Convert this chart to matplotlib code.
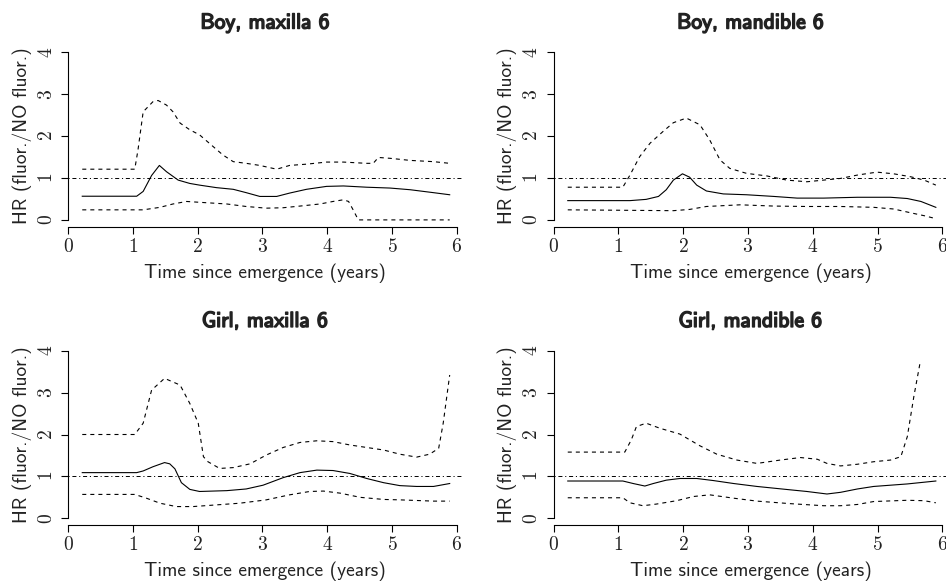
import matplotlib.pyplot as plt
import matplotlib.patheffects as pe

plt.rcParams['axes.formatter.use_mathtext'] = True
plt.rcParams['lines.scale_dashes'] = False

# Boy, maxilla 6
boy_max_t = [0.22, 1.06, 1.16, 1.29, 1.41, 1.52, 1.70, 1.88, 2.03, 2.29, 2.55, 2.75, 2.96,
             3.22, 3.42, 3.68, 3.99, 4.25, 4.61, 4.97, 5.28, 5.64, 5.89]
boy_max_hr = [0.565, 0.565, 0.68, 1.06, 1.30, 1.15, 0.95, 0.87, 0.83, 0.77, 0.73, 0.65, 0.56,
              0.56, 0.64, 0.73, 0.80, 0.81, 0.78, 0.76, 0.72, 0.65, 0.60]
boy_max_up_t = [0.22, 1.03, 1.08, 1.16, 1.31, 1.39, 1.52, 1.62, 1.73, 1.88, 2.03, 2.24, 2.39,
                2.55, 2.75, 2.96, 3.22, 3.42, 3.68, 3.99, 4.25, 4.61, 4.71, 4.79, 4.97, 5.28,
                5.64, 5.89]
boy_max_up = [1.21, 1.21, 1.67, 2.58, 2.82, 2.85, 2.74, 2.58, 2.31, 2.15, 2.03, 1.75, 1.55,
              1.39, 1.35, 1.30, 1.21, 1.30, 1.33, 1.38, 1.38, 1.35, 1.35, 1.49, 1.47, 1.42,
              1.39, 1.35]
boy_max_lo_t = [0.22, 1.03, 1.16, 1.42, 1.62, 1.83, 2.03, 2.45, 2.75, 3.06, 3.32, 3.58, 3.89,
                4.09, 4.25, 4.33, 4.40, 4.48, 5.89]
boy_max_lo = [0.24, 0.24, 0.24, 0.30, 0.38, 0.44, 0.42, 0.38, 0.32, 0.28, 0.29, 0.33, 0.38,
              0.44, 0.48, 0.44, 0.24, 0.0, 0.0]

# Boy, mandible 6
boy_man_t = [0.22, 1.18, 1.43, 1.62, 1.74, 1.85, 1.99, 2.10, 2.21, 2.36, 2.62, 2.98, 3.40,
             3.76, 4.17, 4.69, 5.20, 5.46, 5.67, 5.90]
boy_man_hr = [0.46, 0.46, 0.49, 0.56, 0.72, 0.95, 1.10, 1.02, 0.83, 0.69, 0.62, 0.60, 0.56,
              0.52, 0.52, 0.54, 0.54, 0.51, 0.44, 0.30]
boy_man_up_t = [0.22, 1.07, 1.18, 1.33, 1.49, 1.69, 1.85, 2.05, 2.26, 2.41, 2.57, 2.72, 2.98,
                3.29, 3.60, 3.91, 4.17, 4.43, 4.69, 4.99, 5.25, 5.51, 5.72, 5.90]
boy_man_up = [0.78, 0.78, 1.07, 1.51, 1.83, 2.11, 2.32, 2.43, 2.27, 1.91, 1.43, 1.23, 1.11,
              1.05, 0.95, 0.91, 0.95, 0.99, 1.07, 1.14, 1.10, 1.03, 0.95, 0.83]
boy_man_lo_t = [0.22, 1.85, 2.10, 2.36, 2.88, 3.40, 3.91, 4.43, 4.94, 5.25, 5.51, 5.72, 5.90]
boy_man_lo = [0.24, 0.22, 0.25, 0.32, 0.36, 0.33, 0.32, 0.32, 0.30, 0.26, 0.17, 0.10, 0.03]

# Girl, maxilla 6
girl_max_t = [0.22, 1.06, 1.16, 1.31, 1.49, 1.57, 1.65, 1.75, 1.88, 2.03, 2.45, 2.75, 3.01,
              3.32, 3.58, 3.84, 4.09, 4.35, 4.61, 4.87, 5.12, 5.38, 5.64, 5.89]
girl_max_hr = [1.09, 1.09, 1.13, 1.23, 1.33, 1.30, 1.18, 0.85, 0.69, 0.64, 0.66, 0.70, 0.79,
               0.97, 1.09, 1.15, 1.14, 1.07, 0.95, 0.85, 0.78, 0.76, 0.76, 0.83]
girl_max_up_t = [0.22, 1.03, 1.16, 1.29, 1.49, 1.73, 1.88, 2.01, 2.09, 2.16, 2.34, 2.55, 2.81,
                 3.06, 3.32, 3.58, 3.84, 4.09, 4.35, 4.61, 4.87, 5.12, 5.38, 5.58, 5.72, 5.79,
                 5.89]
girl_max_up = [2.00, 2.00, 2.27, 3.06, 3.34, 3.18, 2.74, 2.27, 1.47, 1.35, 1.19, 1.21, 1.30,
               1.51, 1.69, 1.81, 1.85, 1.83, 1.75, 1.69, 1.63, 1.53, 1.46, 1.53, 1.67, 2.27,
               3.42]
girl_max_lo_t = [0.22, 1.03, 1.21, 1.42, 1.67, 1.93, 2.29, 2.65, 3.06, 3.42, 3.73, 3.94, 4.20,
                 4.51, 4.87, 5.12, 5.64, 5.89]
girl_max_lo = [0.57, 0.57, 0.48, 0.36, 0.28, 0.28, 0.32, 0.36, 0.44, 0.56, 0.64, 0.65, 0.60,
               0.50, 0.45, 0.44, 0.41, 0.41]

# Girl, mandible 6
girl_man_t = [0.22, 1.07, 1.23, 1.41, 1.54, 1.74, 1.95, 2.21, 2.47, 2.78, 3.14, 3.65, 3.91,
              4.22, 4.43, 4.69, 4.94, 5.46, 5.90]
girl_man_hr = [0.89, 0.89, 0.83, 0.77, 0.83, 0.91, 0.95, 0.95, 0.90, 0.83, 0.76, 0.68, 0.64,
               0.58, 0.62, 0.70, 0.76, 0.82, 0.89]
girl_man_up_t = [0.22, 1.10, 1.20, 1.28, 1.43, 1.64, 1.95, 2.26, 2.52, 2.83, 3.14, 3.50, 3.81,
                 4.07, 4.22, 4.43, 4.69, 4.94, 5.20, 5.36, 5.46, 5.56, 5.66]
girl_man_up = [1.58, 1.58, 1.87, 2.19, 2.27, 2.15, 2.01, 1.73, 1.53, 1.39, 1.31, 1.39, 1.45,
               1.41, 1.31, 1.25, 1.29, 1.35, 1.39, 1.47, 1.95, 2.90, 3.74]
girl_man_lo_t = [0.22, 1.07, 1.18, 1.38, 1.59, 1.90, 2.16, 2.41, 2.78, 3.14, 3.65, 4.17, 4.43,
                 4.69, 4.94, 5.46, 5.72, 5.90]
girl_man_lo = [0.49, 0.49, 0.37, 0.30, 0.34, 0.42, 0.52, 0.56, 0.48, 0.41, 0.35, 0.30, 0.30,
               0.33, 0.40, 0.43, 0.42, 0.37]

titles = ["Boy, maxilla 6", "Boy, mandible 6", "Girl, maxilla 6", "Girl, mandible 6"]
panels = [
    (boy_max_t, boy_max_hr, boy_max_up_t, boy_max_up, boy_max_lo_t, boy_max_lo),
    (boy_man_t, boy_man_hr, boy_man_up_t, boy_man_up, boy_man_lo_t, boy_man_lo),
    (girl_max_t, girl_max_hr, girl_max_up_t, girl_max_up, girl_max_lo_t, girl_max_lo),
    (girl_man_t, girl_man_hr, girl_man_up_t, girl_man_up, girl_man_lo_t, girl_man_lo),
]
xticks = [0, 1, 2, 3, 4, 5, 6]
yticks = [0, 1, 2, 3, 4]

W, H = 946, 581
fig = plt.figure(figsize=(W / 100, H / 100), dpi=100)

# axes boxes in pixels: left, top, width, height
boxes = [(68, 45.6, 394, 181), (553.5, 45.6, 394, 181),
         (68, 344, 394, 181), (553.5, 344, 394, 181)]

dash = (0, (2.9, 2.9))
dashdot = (0, (0.8, 2.0, 2.9, 2.0))

for box, title, (t, hr, ut, up, lt, lo) in zip(boxes, titles, panels):
    left, top, w, h = box
    ax = fig.add_axes([left / W, (H - top - h) / H, w / W, h / H])
    ax.plot(t, hr, color='black', lw=0.8)
    ax.plot(ut, up, color='black', lw=0.8, linestyle=dash)
    ax.plot(lt, lo, color='black', lw=0.8, linestyle=dash)
    ax.axhline(1, color='black', lw=0.7, linestyle=dashdot)

    ax.set_xlim(0, 6.08)
    ax.set_ylim(-0.16, 4.16)
    for side in ['top', 'right']:
        ax.spines[side].set_visible(False)
    ax.spines['left'].set_bounds(0, 4)
    ax.spines['bottom'].set_bounds(0, 6)
    for side in ['left', 'bottom']:
        ax.spines[side].set_linewidth(0.8)

    ax.set_xticks(xticks)
    ax.set_yticks(yticks)
    ax.tick_params(length=5, width=0.8, color='black', labelsize=14, labelcolor='#222222')
    ax.tick_params(axis='x', pad=3)
    ax.tick_params(axis='y', pad=4)
    for lab in ax.get_xticklabels():
        lab.set_family('cmr10')
    for lab in ax.get_yticklabels():
        lab.set_family('cmr10')
        lab.set_rotation(90)
        lab.set_va('center')

    ax.set_xlabel("Time since emergence (years)", family='cmss10', fontsize=14,
                  color='#222222', labelpad=5.5)
    ax.set_ylabel("HR (fluor./NO fluor.)", family='cmss10', fontsize=14,
                  color='#222222', labelpad=4)
    ax.text(0.5, 1.125, title, transform=ax.transAxes, ha='center', va='center',
            family='cmss10', fontsize=15.5, color='#222222',
            path_effects=[pe.withStroke(linewidth=1.1, foreground='#222222')])

fig.savefig('out.png', dpi=100)
